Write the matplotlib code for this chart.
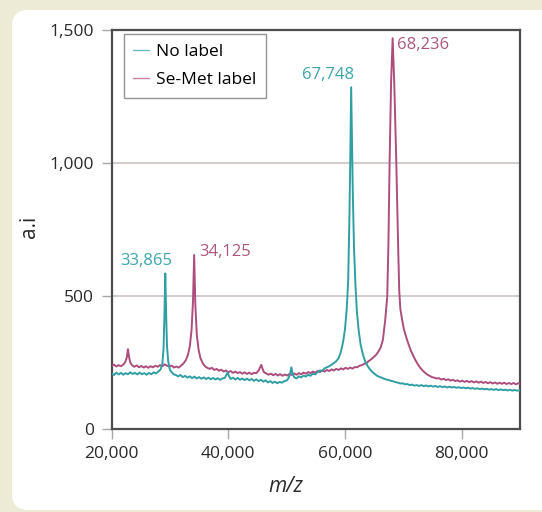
import matplotlib
matplotlib.use("Agg")
import matplotlib.pyplot as plt
from matplotlib.patches import FancyBboxPatch
from matplotlib.ticker import FuncFormatter

plt.rcParams['font.family'] = ['Open Sans', 'DejaVu Sans']

# ---- spectrum, no label (teal) ----
mz_nolabel = [
    20000, 20400, 20800, 21200, 21600, 22000, 22400, 22800, 23200, 23600,
    24000, 24400, 24800, 25200, 25600, 26000, 26400, 26800, 27200, 27600,
    28000, 28400, 28700, 28900, 29050, 29200, 29350, 29500, 29700, 30000,
    30300, 30600, 31000, 31400, 31800, 32200, 32600, 33000, 33400, 33800,
    34200, 34600, 35000, 35400, 35800, 36200, 36600, 37000, 37400, 37800,
    38200, 38600, 39000, 39400, 39700, 39900, 40100, 40400, 40800, 41200,
    41600, 42000, 42400, 42800, 43200, 43600, 44000, 44400, 44800, 45200,
    45600, 46000, 46400, 46800, 47200, 47600, 48000, 48400, 48800, 49200,
    49600, 50000, 50300, 50600, 50800, 51000, 51300, 51700, 52100, 52500,
    52900, 53300, 53700, 54100, 54500, 54900, 55300, 55700, 56100, 56500,
    56900, 57300, 57700, 58100, 58500, 58900, 59300, 59700, 60000, 60300,
    60550, 60750, 60900, 61060, 61200, 61350, 61550, 61800, 62050, 62350,
    62700, 63100, 63500, 63900, 64300, 64700, 65100, 65500, 65900, 66300,
    66700, 67100, 67500, 67900, 68300, 68700, 69100, 69500, 69900, 70300,
    70700, 71100, 71500, 71900, 72300, 72700, 73100, 73500, 73900, 74300,
    74700, 75100, 75500, 75900, 76300, 76700, 77100, 77500, 77900, 78300,
    78700, 79100, 79500, 79900, 80300, 80700, 81100, 81500, 81900, 82300,
    82700, 83100, 83500, 83900, 84300, 84700, 85100, 85500, 85900, 86300,
    86700, 87100, 87500, 87900, 88300, 88700, 89100, 89500, 90000]
int_nolabel = [
    209, 203, 212, 205, 211, 204, 210, 206, 213, 207,
    211, 205, 212, 206, 210, 204, 211, 206, 213, 209,
    216, 224, 245, 300, 420, 585, 430, 310, 255, 222,
    214, 206, 203, 198, 203, 195, 200, 193, 198, 191,
    197, 190, 195, 189, 194, 188, 193, 187, 192, 186,
    191, 185, 190, 192, 205, 213, 200, 188, 193, 186,
    192, 185, 190, 184, 189, 183, 188, 181, 187, 180,
    185, 178, 183, 175, 180, 173, 178, 172, 177, 174,
    180, 182, 190, 208, 232, 210, 194, 190, 198, 194,
    201, 197, 204, 200, 208, 205, 214, 220, 218, 228,
    232, 236, 242, 248, 255, 266, 290, 330, 375, 450,
    560, 780, 1000, 1285, 1080, 880, 680, 540, 440, 370,
    315, 278, 252, 236, 224, 214, 207, 200, 196, 193,
    189, 186, 184, 181, 179, 176, 174, 171, 172, 168,
    169, 165, 167, 163, 165, 162, 165, 161, 164, 160,
    163, 159, 162, 158, 161, 157, 160, 156, 159, 156,
    158, 155, 157, 154, 156, 153, 155, 152, 154, 151,
    153, 150, 152, 149, 151, 148, 150, 147, 150, 146,
    149, 146, 148, 145, 148, 144, 147, 144, 146]

# ---- spectrum, Se-Met label (magenta) ----
mz_semet = [
    20000, 20400, 20800, 21200, 21600, 22000, 22300, 22600, 22800, 23000,
    23200, 23500, 23900, 24300, 24700, 25100, 25500, 25900, 26300, 26700,
    27100, 27500, 27900, 28300, 28700, 29100, 29500, 29900, 30300, 30700,
    31100, 31500, 31900, 32300, 32700, 33100, 33400, 33700, 33950, 34150,
    34350, 34600, 34900, 35200, 35600, 36000, 36400, 36800, 37200, 37600,
    38000, 38400, 38800, 39200, 39600, 40000, 40400, 40800, 41200, 41600,
    42000, 42400, 42800, 43200, 43600, 44000, 44400, 44800, 45200, 45450,
    45650, 45850, 46100, 46500, 46900, 47300, 47700, 48100, 48500, 48900,
    49300, 49700, 50100, 50500, 50900, 51300, 51700, 52100, 52500, 52900,
    53300, 53700, 54100, 54500, 54900, 55300, 55700, 56100, 56500, 56900,
    57300, 57700, 58100, 58500, 58900, 59300, 59700, 60100, 60500, 60900,
    61300, 61700, 62100, 62500, 62900, 63300, 63700, 64100, 64500, 64900,
    65300, 65700, 66100, 66500, 66900, 67250, 67450, 67650, 67900, 68170,
    68450, 68800, 69100, 69300, 69500, 69800, 70100, 70500, 70900, 71300,
    71700, 72100, 72500, 72900, 73300, 73700, 74100, 74500, 74900, 75300,
    75700, 76100, 76500, 76900, 77300, 77700, 78100, 78500, 78900, 79300,
    79700, 80100, 80500, 80900, 81300, 81700, 82100, 82500, 82900, 83300,
    83700, 84100, 84500, 84900, 85300, 85700, 86100, 86500, 86900, 87300,
    87700, 88100, 88500, 88900, 89300, 89700, 90000]
int_semet = [
    237, 242, 235, 240, 236, 242, 250, 268, 300, 270,
    250, 240, 234, 239, 232, 237, 231, 236, 230, 236,
    232, 238, 234, 240, 236, 243, 238, 235, 238, 231,
    235, 231, 238, 246, 258, 280, 310, 370, 480, 654,
    470, 355, 300, 268, 248, 236, 230, 226, 230, 222,
    226, 219, 223, 216, 220, 213, 218, 211, 216, 210,
    214, 208, 213, 207, 212, 206, 211, 210, 220, 232,
    241, 228, 214, 209, 204, 208, 202, 207, 201, 206,
    200, 205, 201, 207, 203, 209, 204, 210, 206, 212,
    208, 214, 210, 216, 212, 218, 214, 220, 216, 222,
    218, 224, 220, 226, 222, 228, 224, 230, 226, 231,
    227, 233, 232, 238, 240, 245, 248, 256, 262, 270,
    278, 290, 305, 335, 410, 500, 700, 1000, 1300, 1469,
    1300, 1000, 700, 520, 450, 410, 375, 345, 318, 295,
    275, 258, 243, 230, 220, 212, 205, 200, 195, 193,
    190, 191, 186, 189, 184, 187, 182, 185, 180, 183,
    178, 182, 177, 181, 176, 180, 175, 179, 174, 178,
    173, 177, 172, 176, 171, 175, 170, 174, 170, 174,
    169, 173, 169, 173, 168, 172, 170]

# peak annotations: text, x, y
peak_labels = ['33,865', '34,125', '67,748', '68,236']
peak_x = [21400, 35000, 52550, 68850]
peak_y = [633, 667, 1331, 1444]

series_labels = ['No label', 'Se-Met label']
teal = '#2f9fa4'
magenta = '#ad4d7d'
peak_colors = ['#3ba6aa', '#b0577f', '#3ba6aa', '#b0577f']

fig = plt.figure(figsize=(5.42, 5.12), dpi=100)
fig.patch.set_facecolor('#edead5')

# white rounded panel behind the chart
panel = FancyBboxPatch((12 / 542, 2 / 512), 1.2, 500 / 512,
                       boxstyle='round,pad=0,rounding_size=0.03',
                       transform=fig.transFigure, facecolor='white',
                       edgecolor='none', zorder=-10)
fig.patches.append(panel)

ax = fig.add_axes([111.6 / 542, 1 - 429 / 512, 408.4 / 542, 399 / 512])
ax.set_facecolor('white')
ax.set_zorder(1)

ax.plot(mz_semet, int_semet, color=magenta, lw=1.4, label=series_labels[1], zorder=3)
ax.plot(mz_nolabel, int_nolabel, color=teal, lw=1.4, label=series_labels[0], zorder=4)

for txt, x, y, c in zip(peak_labels, peak_x, peak_y, peak_colors):
    ax.text(x, y, txt, color=c, fontsize=12, ha='left', va='center', zorder=5)

ax.set_xlim(20000, 90000)
ax.set_ylim(0, 1500)
ax.set_xticks([20000, 40000, 60000, 80000])
ax.set_yticks([0, 500, 1000, 1500])
fmt = FuncFormatter(lambda v, p: '{:,}'.format(int(v)))
ax.xaxis.set_major_formatter(fmt)
ax.yaxis.set_major_formatter(fmt)
ax.tick_params(axis='both', direction='out', length=7.5, width=1,
               color='#a8a8a8', labelsize=12.5, labelcolor='#2a2a2a', pad=5)

ax.grid(axis='y', color='#cbc3c1', lw=1.2, zorder=1)
ax.set_axisbelow(True)
for s in ax.spines.values():
    s.set_color('#4d4d4d')
    s.set_linewidth(1.6)

ax.text(-0.202, 0.506, 'a.i', transform=ax.transAxes, rotation=90,
        ha='center', va='center', fontsize=15, color='#2a2a2a')
ax.text(0.427, -0.145, 'm/z', transform=ax.transAxes, ha='center',
        va='center', fontsize=15, color='#2a2a2a', fontstyle='italic')

handles, labels = ax.get_legend_handles_labels()
leg = ax.legend(handles[::-1], labels[::-1], loc='upper left',
                bbox_to_anchor=(0.030, 0.990), borderaxespad=0,
                fontsize=12.5, frameon=True, fancybox=False,
                handlelength=0.9, handletextpad=0.4, labelspacing=0.7,
                borderpad=0.55)
leg.get_frame().set_edgecolor('#7a7a7a')
leg.get_frame().set_linewidth(1)
for line in leg.get_lines():
    line.set_linewidth(1)
    line.set_alpha(0.7)

fig.savefig('out.png', dpi=100, facecolor=fig.get_facecolor())
